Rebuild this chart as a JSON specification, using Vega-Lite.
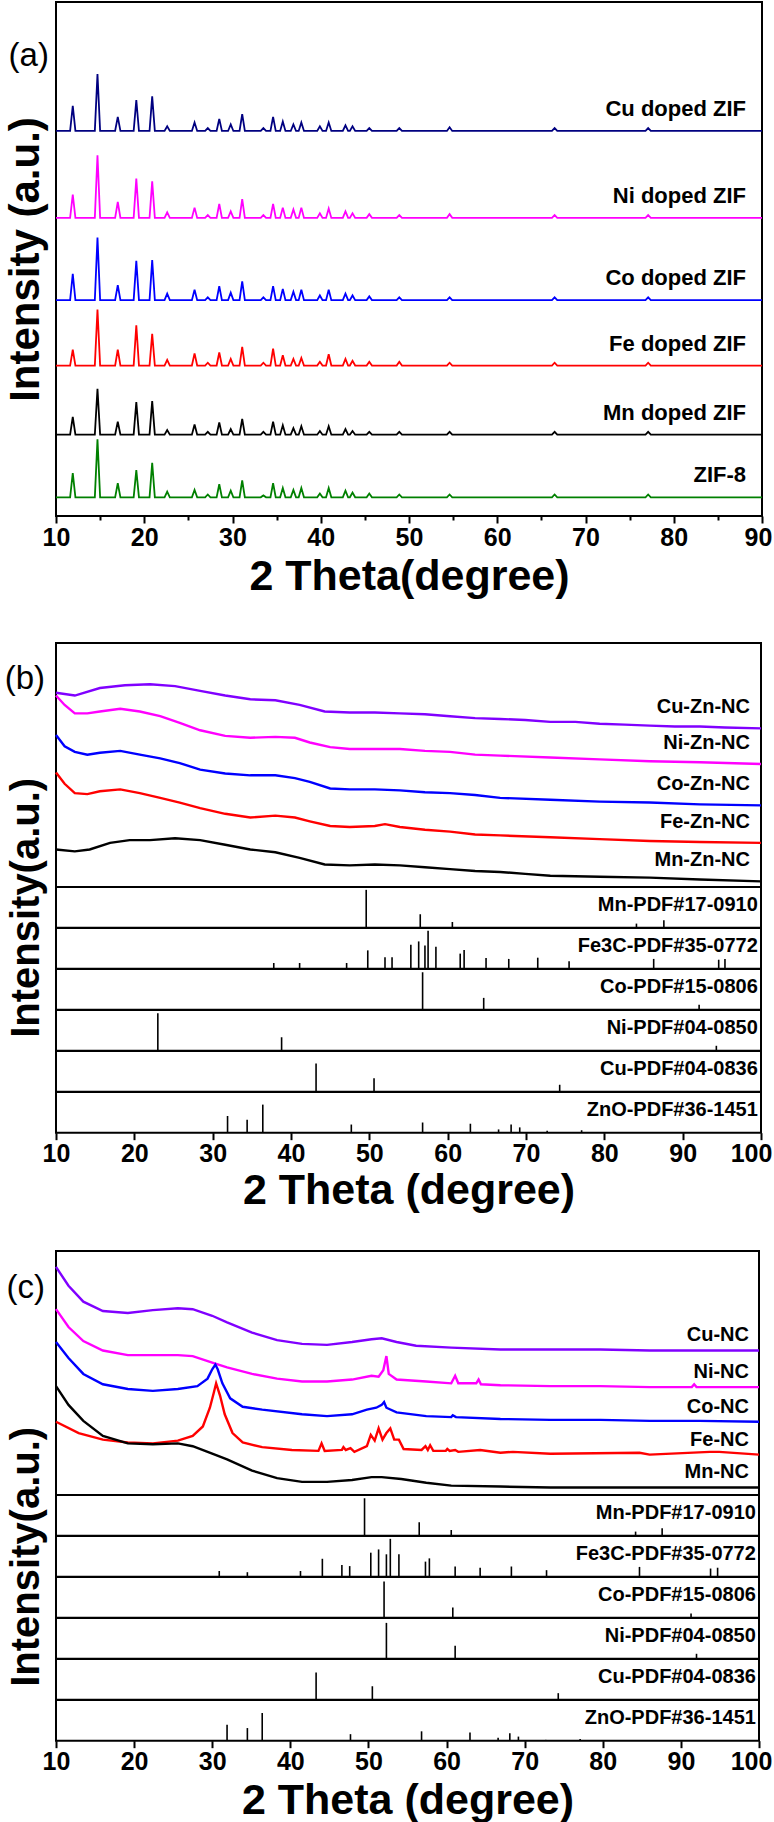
{
"$schema":"https://vega.github.io/schema/vega-lite/v6.json",
"background":"white",
"padding":{"left":3,"top":1,"right":0,"bottom":0},
"spacing":0,
"bounds":"flush",
"resolve":{"scale":{"color":"independent"}},
"config":{"font":"Liberation Sans","view":{"stroke":"#000","strokeWidth":2},
"axis":{"labelFont":"Liberation Sans","labelFontWeight":"bold","labelColor":"#000","titleFont":"Liberation Sans","titleFontWeight":"bold","titleColor":"#000","tickColor":"#000","tickWidth":2,"domain":false,"grid":false}},
"datasets":{
"A":[
{"s":"Cu doped ZIF","x":10,"y":412},{"s":"Cu doped ZIF","x":11.6,"y":412},{"s":"Cu doped ZIF","x":11.9,"y":439},{"s":"Cu doped ZIF","x":12.2,"y":412},{"s":"Cu doped ZIF","x":14.4,"y":412},{"s":"Cu doped ZIF","x":14.7,"y":473},{"s":"Cu doped ZIF","x":15.0,"y":412},{"s":"Cu doped ZIF","x":16.7,"y":412},{"s":"Cu doped ZIF","x":17.0,"y":427},{"s":"Cu doped ZIF","x":17.3,"y":412},{"s":"Cu doped ZIF","x":18.8,"y":412},{"s":"Cu doped ZIF","x":19.1,"y":445},{"s":"Cu doped ZIF","x":19.4,"y":412},{"s":"Cu doped ZIF","x":20.6,"y":412},{"s":"Cu doped ZIF","x":20.9,"y":449},{"s":"Cu doped ZIF","x":21.2,"y":412},{"s":"Cu doped ZIF","x":22.3,"y":412},{"s":"Cu doped ZIF","x":22.6,"y":417},{"s":"Cu doped ZIF","x":22.9,"y":412},{"s":"Cu doped ZIF","x":25.4,"y":412},{"s":"Cu doped ZIF","x":25.7,"y":421},{"s":"Cu doped ZIF","x":26.0,"y":412},{"s":"Cu doped ZIF","x":26.9,"y":412},{"s":"Cu doped ZIF","x":27.2,"y":415},{"s":"Cu doped ZIF","x":27.5,"y":412},{"s":"Cu doped ZIF","x":28.2,"y":412},{"s":"Cu doped ZIF","x":28.5,"y":425},{"s":"Cu doped ZIF","x":28.8,"y":412},{"s":"Cu doped ZIF","x":29.5,"y":412},{"s":"Cu doped ZIF","x":29.8,"y":419},{"s":"Cu doped ZIF","x":30.1,"y":412},{"s":"Cu doped ZIF","x":30.8,"y":412},{"s":"Cu doped ZIF","x":31.1,"y":430},{"s":"Cu doped ZIF","x":31.4,"y":412},{"s":"Cu doped ZIF","x":33.2,"y":412},{"s":"Cu doped ZIF","x":33.5,"y":415},{"s":"Cu doped ZIF","x":33.8,"y":412},{"s":"Cu doped ZIF","x":34.3,"y":412},{"s":"Cu doped ZIF","x":34.6,"y":427},{"s":"Cu doped ZIF","x":34.9,"y":412},{"s":"Cu doped ZIF","x":35.4,"y":412},{"s":"Cu doped ZIF","x":35.7,"y":422},{"s":"Cu doped ZIF","x":36.0,"y":412},{"s":"Cu doped ZIF","x":36.6,"y":412},{"s":"Cu doped ZIF","x":36.9,"y":419},{"s":"Cu doped ZIF","x":37.2,"y":412},{"s":"Cu doped ZIF","x":37.5,"y":412},{"s":"Cu doped ZIF","x":37.8,"y":421},{"s":"Cu doped ZIF","x":38.1,"y":412},{"s":"Cu doped ZIF","x":39.6,"y":412},{"s":"Cu doped ZIF","x":39.9,"y":417},{"s":"Cu doped ZIF","x":40.2,"y":412},{"s":"Cu doped ZIF","x":40.6,"y":412},{"s":"Cu doped ZIF","x":40.9,"y":421},{"s":"Cu doped ZIF","x":41.2,"y":412},{"s":"Cu doped ZIF","x":42.5,"y":412},{"s":"Cu doped ZIF","x":42.8,"y":418},{"s":"Cu doped ZIF","x":43.1,"y":412},{"s":"Cu doped ZIF","x":43.3,"y":412},{"s":"Cu doped ZIF","x":43.6,"y":417},{"s":"Cu doped ZIF","x":43.9,"y":412},{"s":"Cu doped ZIF","x":45.2,"y":412},{"s":"Cu doped ZIF","x":45.5,"y":415},{"s":"Cu doped ZIF","x":45.8,"y":412},{"s":"Cu doped ZIF","x":48.6,"y":412},{"s":"Cu doped ZIF","x":48.9,"y":415},{"s":"Cu doped ZIF","x":49.2,"y":412},{"s":"Cu doped ZIF","x":54.3,"y":412},{"s":"Cu doped ZIF","x":54.6,"y":416},{"s":"Cu doped ZIF","x":54.9,"y":412},{"s":"Cu doped ZIF","x":66.2,"y":412},{"s":"Cu doped ZIF","x":66.5,"y":415},{"s":"Cu doped ZIF","x":66.8,"y":412},{"s":"Cu doped ZIF","x":76.8,"y":412},{"s":"Cu doped ZIF","x":77.1,"y":415},{"s":"Cu doped ZIF","x":77.4,"y":412},{"s":"Cu doped ZIF","x":90,"y":412},
{"s":"Ni doped ZIF","x":10,"y":319},{"s":"Ni doped ZIF","x":11.6,"y":319},{"s":"Ni doped ZIF","x":11.9,"y":344},{"s":"Ni doped ZIF","x":12.2,"y":319},{"s":"Ni doped ZIF","x":14.4,"y":319},{"s":"Ni doped ZIF","x":14.7,"y":386},{"s":"Ni doped ZIF","x":15.0,"y":319},{"s":"Ni doped ZIF","x":16.7,"y":319},{"s":"Ni doped ZIF","x":17.0,"y":336},{"s":"Ni doped ZIF","x":17.3,"y":319},{"s":"Ni doped ZIF","x":18.8,"y":319},{"s":"Ni doped ZIF","x":19.1,"y":361},{"s":"Ni doped ZIF","x":19.4,"y":319},{"s":"Ni doped ZIF","x":20.6,"y":319},{"s":"Ni doped ZIF","x":20.9,"y":358},{"s":"Ni doped ZIF","x":21.2,"y":319},{"s":"Ni doped ZIF","x":22.3,"y":319},{"s":"Ni doped ZIF","x":22.6,"y":325},{"s":"Ni doped ZIF","x":22.9,"y":319},{"s":"Ni doped ZIF","x":25.4,"y":319},{"s":"Ni doped ZIF","x":25.7,"y":330},{"s":"Ni doped ZIF","x":26.0,"y":319},{"s":"Ni doped ZIF","x":26.9,"y":319},{"s":"Ni doped ZIF","x":27.2,"y":322},{"s":"Ni doped ZIF","x":27.5,"y":319},{"s":"Ni doped ZIF","x":28.2,"y":319},{"s":"Ni doped ZIF","x":28.5,"y":334},{"s":"Ni doped ZIF","x":28.8,"y":319},{"s":"Ni doped ZIF","x":29.5,"y":319},{"s":"Ni doped ZIF","x":29.8,"y":326},{"s":"Ni doped ZIF","x":30.1,"y":319},{"s":"Ni doped ZIF","x":30.8,"y":319},{"s":"Ni doped ZIF","x":31.1,"y":339},{"s":"Ni doped ZIF","x":31.4,"y":319},{"s":"Ni doped ZIF","x":33.2,"y":319},{"s":"Ni doped ZIF","x":33.5,"y":322},{"s":"Ni doped ZIF","x":33.8,"y":319},{"s":"Ni doped ZIF","x":34.3,"y":319},{"s":"Ni doped ZIF","x":34.6,"y":334},{"s":"Ni doped ZIF","x":34.9,"y":319},{"s":"Ni doped ZIF","x":35.4,"y":319},{"s":"Ni doped ZIF","x":35.7,"y":330},{"s":"Ni doped ZIF","x":36.0,"y":319},{"s":"Ni doped ZIF","x":36.6,"y":319},{"s":"Ni doped ZIF","x":36.9,"y":328},{"s":"Ni doped ZIF","x":37.2,"y":319},{"s":"Ni doped ZIF","x":37.5,"y":319},{"s":"Ni doped ZIF","x":37.8,"y":330},{"s":"Ni doped ZIF","x":38.1,"y":319},{"s":"Ni doped ZIF","x":39.6,"y":319},{"s":"Ni doped ZIF","x":39.9,"y":324},{"s":"Ni doped ZIF","x":40.2,"y":319},{"s":"Ni doped ZIF","x":40.6,"y":319},{"s":"Ni doped ZIF","x":40.9,"y":329},{"s":"Ni doped ZIF","x":41.2,"y":319},{"s":"Ni doped ZIF","x":42.5,"y":319},{"s":"Ni doped ZIF","x":42.8,"y":326},{"s":"Ni doped ZIF","x":43.1,"y":319},{"s":"Ni doped ZIF","x":43.3,"y":319},{"s":"Ni doped ZIF","x":43.6,"y":324},{"s":"Ni doped ZIF","x":43.9,"y":319},{"s":"Ni doped ZIF","x":45.2,"y":319},{"s":"Ni doped ZIF","x":45.5,"y":323},{"s":"Ni doped ZIF","x":45.8,"y":319},{"s":"Ni doped ZIF","x":48.6,"y":319},{"s":"Ni doped ZIF","x":48.9,"y":322},{"s":"Ni doped ZIF","x":49.2,"y":319},{"s":"Ni doped ZIF","x":54.3,"y":319},{"s":"Ni doped ZIF","x":54.6,"y":323},{"s":"Ni doped ZIF","x":54.9,"y":319},{"s":"Ni doped ZIF","x":66.2,"y":319},{"s":"Ni doped ZIF","x":66.5,"y":322},{"s":"Ni doped ZIF","x":66.8,"y":319},{"s":"Ni doped ZIF","x":76.8,"y":319},{"s":"Ni doped ZIF","x":77.1,"y":322},{"s":"Ni doped ZIF","x":77.4,"y":319},{"s":"Ni doped ZIF","x":90,"y":319},
{"s":"Co doped ZIF","x":10,"y":231},{"s":"Co doped ZIF","x":11.6,"y":231},{"s":"Co doped ZIF","x":11.9,"y":259},{"s":"Co doped ZIF","x":12.2,"y":231},{"s":"Co doped ZIF","x":14.4,"y":231},{"s":"Co doped ZIF","x":14.7,"y":298},{"s":"Co doped ZIF","x":15.0,"y":231},{"s":"Co doped ZIF","x":16.7,"y":231},{"s":"Co doped ZIF","x":17.0,"y":247},{"s":"Co doped ZIF","x":17.3,"y":231},{"s":"Co doped ZIF","x":18.8,"y":231},{"s":"Co doped ZIF","x":19.1,"y":273},{"s":"Co doped ZIF","x":19.4,"y":231},{"s":"Co doped ZIF","x":20.6,"y":231},{"s":"Co doped ZIF","x":20.9,"y":274},{"s":"Co doped ZIF","x":21.2,"y":231},{"s":"Co doped ZIF","x":22.3,"y":231},{"s":"Co doped ZIF","x":22.6,"y":238},{"s":"Co doped ZIF","x":22.9,"y":231},{"s":"Co doped ZIF","x":25.4,"y":231},{"s":"Co doped ZIF","x":25.7,"y":242},{"s":"Co doped ZIF","x":26.0,"y":231},{"s":"Co doped ZIF","x":26.9,"y":231},{"s":"Co doped ZIF","x":27.2,"y":234},{"s":"Co doped ZIF","x":27.5,"y":231},{"s":"Co doped ZIF","x":28.2,"y":231},{"s":"Co doped ZIF","x":28.5,"y":246},{"s":"Co doped ZIF","x":28.8,"y":231},{"s":"Co doped ZIF","x":29.5,"y":231},{"s":"Co doped ZIF","x":29.8,"y":239},{"s":"Co doped ZIF","x":30.1,"y":231},{"s":"Co doped ZIF","x":30.8,"y":231},{"s":"Co doped ZIF","x":31.1,"y":251},{"s":"Co doped ZIF","x":31.4,"y":231},{"s":"Co doped ZIF","x":33.2,"y":231},{"s":"Co doped ZIF","x":33.5,"y":234},{"s":"Co doped ZIF","x":33.8,"y":231},{"s":"Co doped ZIF","x":34.3,"y":231},{"s":"Co doped ZIF","x":34.6,"y":246},{"s":"Co doped ZIF","x":34.9,"y":231},{"s":"Co doped ZIF","x":35.4,"y":231},{"s":"Co doped ZIF","x":35.7,"y":243},{"s":"Co doped ZIF","x":36.0,"y":231},{"s":"Co doped ZIF","x":36.6,"y":231},{"s":"Co doped ZIF","x":36.9,"y":240},{"s":"Co doped ZIF","x":37.2,"y":231},{"s":"Co doped ZIF","x":37.5,"y":231},{"s":"Co doped ZIF","x":37.8,"y":242},{"s":"Co doped ZIF","x":38.1,"y":231},{"s":"Co doped ZIF","x":39.6,"y":231},{"s":"Co doped ZIF","x":39.9,"y":236},{"s":"Co doped ZIF","x":40.2,"y":231},{"s":"Co doped ZIF","x":40.6,"y":231},{"s":"Co doped ZIF","x":40.9,"y":242},{"s":"Co doped ZIF","x":41.2,"y":231},{"s":"Co doped ZIF","x":42.5,"y":231},{"s":"Co doped ZIF","x":42.8,"y":238},{"s":"Co doped ZIF","x":43.1,"y":231},{"s":"Co doped ZIF","x":43.3,"y":231},{"s":"Co doped ZIF","x":43.6,"y":236},{"s":"Co doped ZIF","x":43.9,"y":231},{"s":"Co doped ZIF","x":45.2,"y":231},{"s":"Co doped ZIF","x":45.5,"y":235},{"s":"Co doped ZIF","x":45.8,"y":231},{"s":"Co doped ZIF","x":48.6,"y":231},{"s":"Co doped ZIF","x":48.9,"y":234},{"s":"Co doped ZIF","x":49.2,"y":231},{"s":"Co doped ZIF","x":54.3,"y":231},{"s":"Co doped ZIF","x":54.6,"y":234},{"s":"Co doped ZIF","x":54.9,"y":231},{"s":"Co doped ZIF","x":66.2,"y":231},{"s":"Co doped ZIF","x":66.5,"y":234},{"s":"Co doped ZIF","x":66.8,"y":231},{"s":"Co doped ZIF","x":76.8,"y":231},{"s":"Co doped ZIF","x":77.1,"y":234},{"s":"Co doped ZIF","x":77.4,"y":231},{"s":"Co doped ZIF","x":90,"y":231},
{"s":"Fe doped ZIF","x":10,"y":161},{"s":"Fe doped ZIF","x":11.6,"y":161},{"s":"Fe doped ZIF","x":11.9,"y":178},{"s":"Fe doped ZIF","x":12.2,"y":161},{"s":"Fe doped ZIF","x":14.4,"y":161},{"s":"Fe doped ZIF","x":14.7,"y":221},{"s":"Fe doped ZIF","x":15.0,"y":161},{"s":"Fe doped ZIF","x":16.7,"y":161},{"s":"Fe doped ZIF","x":17.0,"y":178},{"s":"Fe doped ZIF","x":17.3,"y":161},{"s":"Fe doped ZIF","x":18.8,"y":161},{"s":"Fe doped ZIF","x":19.1,"y":204},{"s":"Fe doped ZIF","x":19.4,"y":161},{"s":"Fe doped ZIF","x":20.6,"y":161},{"s":"Fe doped ZIF","x":20.9,"y":195},{"s":"Fe doped ZIF","x":21.2,"y":161},{"s":"Fe doped ZIF","x":22.3,"y":161},{"s":"Fe doped ZIF","x":22.6,"y":167},{"s":"Fe doped ZIF","x":22.9,"y":161},{"s":"Fe doped ZIF","x":25.4,"y":161},{"s":"Fe doped ZIF","x":25.7,"y":174},{"s":"Fe doped ZIF","x":26.0,"y":161},{"s":"Fe doped ZIF","x":26.9,"y":161},{"s":"Fe doped ZIF","x":27.2,"y":164},{"s":"Fe doped ZIF","x":27.5,"y":161},{"s":"Fe doped ZIF","x":28.2,"y":161},{"s":"Fe doped ZIF","x":28.5,"y":175},{"s":"Fe doped ZIF","x":28.8,"y":161},{"s":"Fe doped ZIF","x":29.5,"y":161},{"s":"Fe doped ZIF","x":29.8,"y":168},{"s":"Fe doped ZIF","x":30.1,"y":161},{"s":"Fe doped ZIF","x":30.8,"y":161},{"s":"Fe doped ZIF","x":31.1,"y":181},{"s":"Fe doped ZIF","x":31.4,"y":161},{"s":"Fe doped ZIF","x":33.2,"y":161},{"s":"Fe doped ZIF","x":33.5,"y":164},{"s":"Fe doped ZIF","x":33.8,"y":161},{"s":"Fe doped ZIF","x":34.3,"y":161},{"s":"Fe doped ZIF","x":34.6,"y":179},{"s":"Fe doped ZIF","x":34.9,"y":161},{"s":"Fe doped ZIF","x":35.4,"y":161},{"s":"Fe doped ZIF","x":35.7,"y":172},{"s":"Fe doped ZIF","x":36.0,"y":161},{"s":"Fe doped ZIF","x":36.6,"y":161},{"s":"Fe doped ZIF","x":36.9,"y":168},{"s":"Fe doped ZIF","x":37.2,"y":161},{"s":"Fe doped ZIF","x":37.5,"y":161},{"s":"Fe doped ZIF","x":37.8,"y":169},{"s":"Fe doped ZIF","x":38.1,"y":161},{"s":"Fe doped ZIF","x":39.6,"y":161},{"s":"Fe doped ZIF","x":39.9,"y":165},{"s":"Fe doped ZIF","x":40.2,"y":161},{"s":"Fe doped ZIF","x":40.6,"y":161},{"s":"Fe doped ZIF","x":40.9,"y":173},{"s":"Fe doped ZIF","x":41.2,"y":161},{"s":"Fe doped ZIF","x":42.5,"y":161},{"s":"Fe doped ZIF","x":42.8,"y":168},{"s":"Fe doped ZIF","x":43.1,"y":161},{"s":"Fe doped ZIF","x":43.3,"y":161},{"s":"Fe doped ZIF","x":43.6,"y":166},{"s":"Fe doped ZIF","x":43.9,"y":161},{"s":"Fe doped ZIF","x":45.2,"y":161},{"s":"Fe doped ZIF","x":45.5,"y":165},{"s":"Fe doped ZIF","x":45.8,"y":161},{"s":"Fe doped ZIF","x":48.6,"y":161},{"s":"Fe doped ZIF","x":48.9,"y":165},{"s":"Fe doped ZIF","x":49.2,"y":161},{"s":"Fe doped ZIF","x":54.3,"y":161},{"s":"Fe doped ZIF","x":54.6,"y":164},{"s":"Fe doped ZIF","x":54.9,"y":161},{"s":"Fe doped ZIF","x":66.2,"y":161},{"s":"Fe doped ZIF","x":66.5,"y":164},{"s":"Fe doped ZIF","x":66.8,"y":161},{"s":"Fe doped ZIF","x":76.8,"y":161},{"s":"Fe doped ZIF","x":77.1,"y":164},{"s":"Fe doped ZIF","x":77.4,"y":161},{"s":"Fe doped ZIF","x":90,"y":161},
{"s":"Mn doped ZIF","x":10,"y":87},{"s":"Mn doped ZIF","x":11.6,"y":87},{"s":"Mn doped ZIF","x":11.9,"y":106},{"s":"Mn doped ZIF","x":12.2,"y":87},{"s":"Mn doped ZIF","x":14.4,"y":87},{"s":"Mn doped ZIF","x":14.7,"y":136},{"s":"Mn doped ZIF","x":15.0,"y":87},{"s":"Mn doped ZIF","x":16.7,"y":87},{"s":"Mn doped ZIF","x":17.0,"y":101},{"s":"Mn doped ZIF","x":17.3,"y":87},{"s":"Mn doped ZIF","x":18.8,"y":87},{"s":"Mn doped ZIF","x":19.1,"y":122},{"s":"Mn doped ZIF","x":19.4,"y":87},{"s":"Mn doped ZIF","x":20.6,"y":87},{"s":"Mn doped ZIF","x":20.9,"y":123},{"s":"Mn doped ZIF","x":21.2,"y":87},{"s":"Mn doped ZIF","x":22.3,"y":87},{"s":"Mn doped ZIF","x":22.6,"y":92},{"s":"Mn doped ZIF","x":22.9,"y":87},{"s":"Mn doped ZIF","x":25.4,"y":87},{"s":"Mn doped ZIF","x":25.7,"y":98},{"s":"Mn doped ZIF","x":26.0,"y":87},{"s":"Mn doped ZIF","x":26.9,"y":87},{"s":"Mn doped ZIF","x":27.2,"y":90},{"s":"Mn doped ZIF","x":27.5,"y":87},{"s":"Mn doped ZIF","x":28.2,"y":87},{"s":"Mn doped ZIF","x":28.5,"y":100},{"s":"Mn doped ZIF","x":28.8,"y":87},{"s":"Mn doped ZIF","x":29.5,"y":87},{"s":"Mn doped ZIF","x":29.8,"y":93},{"s":"Mn doped ZIF","x":30.1,"y":87},{"s":"Mn doped ZIF","x":30.8,"y":87},{"s":"Mn doped ZIF","x":31.1,"y":104},{"s":"Mn doped ZIF","x":31.4,"y":87},{"s":"Mn doped ZIF","x":33.2,"y":87},{"s":"Mn doped ZIF","x":33.5,"y":90},{"s":"Mn doped ZIF","x":33.8,"y":87},{"s":"Mn doped ZIF","x":34.3,"y":87},{"s":"Mn doped ZIF","x":34.6,"y":101},{"s":"Mn doped ZIF","x":34.9,"y":87},{"s":"Mn doped ZIF","x":35.4,"y":87},{"s":"Mn doped ZIF","x":35.7,"y":97},{"s":"Mn doped ZIF","x":36.0,"y":87},{"s":"Mn doped ZIF","x":36.6,"y":87},{"s":"Mn doped ZIF","x":36.9,"y":94},{"s":"Mn doped ZIF","x":37.2,"y":87},{"s":"Mn doped ZIF","x":37.5,"y":87},{"s":"Mn doped ZIF","x":37.8,"y":96},{"s":"Mn doped ZIF","x":38.1,"y":87},{"s":"Mn doped ZIF","x":39.6,"y":87},{"s":"Mn doped ZIF","x":39.9,"y":91},{"s":"Mn doped ZIF","x":40.2,"y":87},{"s":"Mn doped ZIF","x":40.6,"y":87},{"s":"Mn doped ZIF","x":40.9,"y":96},{"s":"Mn doped ZIF","x":41.2,"y":87},{"s":"Mn doped ZIF","x":42.5,"y":87},{"s":"Mn doped ZIF","x":42.8,"y":93},{"s":"Mn doped ZIF","x":43.1,"y":87},{"s":"Mn doped ZIF","x":43.3,"y":87},{"s":"Mn doped ZIF","x":43.6,"y":91},{"s":"Mn doped ZIF","x":43.9,"y":87},{"s":"Mn doped ZIF","x":45.2,"y":87},{"s":"Mn doped ZIF","x":45.5,"y":90},{"s":"Mn doped ZIF","x":45.8,"y":87},{"s":"Mn doped ZIF","x":48.6,"y":87},{"s":"Mn doped ZIF","x":48.9,"y":90},{"s":"Mn doped ZIF","x":49.2,"y":87},{"s":"Mn doped ZIF","x":54.3,"y":87},{"s":"Mn doped ZIF","x":54.6,"y":90},{"s":"Mn doped ZIF","x":54.9,"y":87},{"s":"Mn doped ZIF","x":66.2,"y":87},{"s":"Mn doped ZIF","x":66.5,"y":90},{"s":"Mn doped ZIF","x":66.8,"y":87},{"s":"Mn doped ZIF","x":76.8,"y":87},{"s":"Mn doped ZIF","x":77.1,"y":90},{"s":"Mn doped ZIF","x":77.4,"y":87},{"s":"Mn doped ZIF","x":90,"y":87},
{"s":"ZIF-8","x":10,"y":20},{"s":"ZIF-8","x":11.6,"y":20},{"s":"ZIF-8","x":11.9,"y":46},{"s":"ZIF-8","x":12.2,"y":20},{"s":"ZIF-8","x":14.4,"y":20},{"s":"ZIF-8","x":14.7,"y":82},{"s":"ZIF-8","x":15.0,"y":20},{"s":"ZIF-8","x":16.7,"y":20},{"s":"ZIF-8","x":17.0,"y":35},{"s":"ZIF-8","x":17.3,"y":20},{"s":"ZIF-8","x":18.8,"y":20},{"s":"ZIF-8","x":19.1,"y":49},{"s":"ZIF-8","x":19.4,"y":20},{"s":"ZIF-8","x":20.6,"y":20},{"s":"ZIF-8","x":20.9,"y":57},{"s":"ZIF-8","x":21.2,"y":20},{"s":"ZIF-8","x":22.3,"y":20},{"s":"ZIF-8","x":22.6,"y":26},{"s":"ZIF-8","x":22.9,"y":20},{"s":"ZIF-8","x":25.4,"y":20},{"s":"ZIF-8","x":25.7,"y":28},{"s":"ZIF-8","x":26.0,"y":20},{"s":"ZIF-8","x":26.9,"y":20},{"s":"ZIF-8","x":27.2,"y":23},{"s":"ZIF-8","x":27.5,"y":20},{"s":"ZIF-8","x":28.2,"y":20},{"s":"ZIF-8","x":28.5,"y":34},{"s":"ZIF-8","x":28.8,"y":20},{"s":"ZIF-8","x":29.5,"y":20},{"s":"ZIF-8","x":29.8,"y":27},{"s":"ZIF-8","x":30.1,"y":20},{"s":"ZIF-8","x":30.8,"y":20},{"s":"ZIF-8","x":31.1,"y":38},{"s":"ZIF-8","x":31.4,"y":20},{"s":"ZIF-8","x":33.2,"y":20},{"s":"ZIF-8","x":33.5,"y":22},{"s":"ZIF-8","x":33.8,"y":20},{"s":"ZIF-8","x":34.3,"y":20},{"s":"ZIF-8","x":34.6,"y":35},{"s":"ZIF-8","x":34.9,"y":20},{"s":"ZIF-8","x":35.4,"y":20},{"s":"ZIF-8","x":35.7,"y":30},{"s":"ZIF-8","x":36.0,"y":20},{"s":"ZIF-8","x":36.6,"y":20},{"s":"ZIF-8","x":36.9,"y":28},{"s":"ZIF-8","x":37.2,"y":20},{"s":"ZIF-8","x":37.5,"y":20},{"s":"ZIF-8","x":37.8,"y":30},{"s":"ZIF-8","x":38.1,"y":20},{"s":"ZIF-8","x":39.6,"y":20},{"s":"ZIF-8","x":39.9,"y":24},{"s":"ZIF-8","x":40.2,"y":20},{"s":"ZIF-8","x":40.6,"y":20},{"s":"ZIF-8","x":40.9,"y":30},{"s":"ZIF-8","x":41.2,"y":20},{"s":"ZIF-8","x":42.5,"y":20},{"s":"ZIF-8","x":42.8,"y":27},{"s":"ZIF-8","x":43.1,"y":20},{"s":"ZIF-8","x":43.3,"y":20},{"s":"ZIF-8","x":43.6,"y":25},{"s":"ZIF-8","x":43.9,"y":20},{"s":"ZIF-8","x":45.2,"y":20},{"s":"ZIF-8","x":45.5,"y":24},{"s":"ZIF-8","x":45.8,"y":20},{"s":"ZIF-8","x":48.6,"y":20},{"s":"ZIF-8","x":48.9,"y":23},{"s":"ZIF-8","x":49.2,"y":20},{"s":"ZIF-8","x":54.3,"y":20},{"s":"ZIF-8","x":54.6,"y":23},{"s":"ZIF-8","x":54.9,"y":20},{"s":"ZIF-8","x":66.2,"y":20},{"s":"ZIF-8","x":66.5,"y":23},{"s":"ZIF-8","x":66.8,"y":20},{"s":"ZIF-8","x":76.8,"y":20},{"s":"ZIF-8","x":77.1,"y":23},{"s":"ZIF-8","x":77.4,"y":20},{"s":"ZIF-8","x":90,"y":20}
],
"B":[
{"s":"Cu-Zn-NC","x":10,"y":207},{"s":"Cu-Zn-NC","x":12.4,"y":204},{"s":"Cu-Zn-NC","x":15.6,"y":212},{"s":"Cu-Zn-NC","x":18.8,"y":215},{"s":"Cu-Zn-NC","x":22.0,"y":216},{"s":"Cu-Zn-NC","x":25.2,"y":214},{"s":"Cu-Zn-NC","x":28.4,"y":209},{"s":"Cu-Zn-NC","x":31.6,"y":204},{"s":"Cu-Zn-NC","x":34.8,"y":200},{"s":"Cu-Zn-NC","x":38.0,"y":199},{"s":"Cu-Zn-NC","x":41.1,"y":194},{"s":"Cu-Zn-NC","x":44.3,"y":187},{"s":"Cu-Zn-NC","x":47.5,"y":186},{"s":"Cu-Zn-NC","x":50.7,"y":186},{"s":"Cu-Zn-NC","x":53.9,"y":185},{"s":"Cu-Zn-NC","x":57.1,"y":184},{"s":"Cu-Zn-NC","x":60.3,"y":182},{"s":"Cu-Zn-NC","x":63.5,"y":180},{"s":"Cu-Zn-NC","x":66.7,"y":179},{"s":"Cu-Zn-NC","x":69.9,"y":178},{"s":"Cu-Zn-NC","x":73.1,"y":176},{"s":"Cu-Zn-NC","x":76.3,"y":176},{"s":"Cu-Zn-NC","x":79.4,"y":174},{"s":"Cu-Zn-NC","x":82.6,"y":173},{"s":"Cu-Zn-NC","x":85.8,"y":172},{"s":"Cu-Zn-NC","x":89.0,"y":171},{"s":"Cu-Zn-NC","x":92.2,"y":171},{"s":"Cu-Zn-NC","x":95.4,"y":170},{"s":"Cu-Zn-NC","x":100,"y":169},
{"s":"Ni-Zn-NC","x":10,"y":204},{"s":"Ni-Zn-NC","x":11.1,"y":194},{"s":"Ni-Zn-NC","x":12.4,"y":185},{"s":"Ni-Zn-NC","x":14.0,"y":185},{"s":"Ni-Zn-NC","x":15.6,"y":187},{"s":"Ni-Zn-NC","x":18.2,"y":190},{"s":"Ni-Zn-NC","x":20.7,"y":187},{"s":"Ni-Zn-NC","x":23.3,"y":182},{"s":"Ni-Zn-NC","x":25.8,"y":175},{"s":"Ni-Zn-NC","x":28.4,"y":167},{"s":"Ni-Zn-NC","x":31.6,"y":161},{"s":"Ni-Zn-NC","x":34.8,"y":159},{"s":"Ni-Zn-NC","x":38.0,"y":160},{"s":"Ni-Zn-NC","x":40.5,"y":159},{"s":"Ni-Zn-NC","x":42.4,"y":154},{"s":"Ni-Zn-NC","x":45.0,"y":149},{"s":"Ni-Zn-NC","x":47.5,"y":147},{"s":"Ni-Zn-NC","x":50.7,"y":147},{"s":"Ni-Zn-NC","x":53.9,"y":147},{"s":"Ni-Zn-NC","x":57.1,"y":145},{"s":"Ni-Zn-NC","x":60.3,"y":144},{"s":"Ni-Zn-NC","x":63.5,"y":141},{"s":"Ni-Zn-NC","x":66.7,"y":140},{"s":"Ni-Zn-NC","x":73.1,"y":138},{"s":"Ni-Zn-NC","x":79.4,"y":136},{"s":"Ni-Zn-NC","x":85.8,"y":134},{"s":"Ni-Zn-NC","x":92.2,"y":133},{"s":"Ni-Zn-NC","x":100,"y":131},
{"s":"Co-Zn-NC","x":10,"y":162},{"s":"Co-Zn-NC","x":11.1,"y":150},{"s":"Co-Zn-NC","x":12.4,"y":144},{"s":"Co-Zn-NC","x":14.0,"y":141},{"s":"Co-Zn-NC","x":15.6,"y":143},{"s":"Co-Zn-NC","x":18.2,"y":145},{"s":"Co-Zn-NC","x":20.7,"y":141},{"s":"Co-Zn-NC","x":23.3,"y":137},{"s":"Co-Zn-NC","x":25.8,"y":132},{"s":"Co-Zn-NC","x":28.4,"y":125},{"s":"Co-Zn-NC","x":31.6,"y":121},{"s":"Co-Zn-NC","x":34.8,"y":119},{"s":"Co-Zn-NC","x":38.0,"y":119},{"s":"Co-Zn-NC","x":40.5,"y":116},{"s":"Co-Zn-NC","x":42.4,"y":112},{"s":"Co-Zn-NC","x":45.0,"y":105},{"s":"Co-Zn-NC","x":47.5,"y":104},{"s":"Co-Zn-NC","x":50.7,"y":104},{"s":"Co-Zn-NC","x":53.9,"y":103},{"s":"Co-Zn-NC","x":57.1,"y":101},{"s":"Co-Zn-NC","x":60.3,"y":100},{"s":"Co-Zn-NC","x":63.5,"y":98},{"s":"Co-Zn-NC","x":66.7,"y":95},{"s":"Co-Zn-NC","x":73.1,"y":93},{"s":"Co-Zn-NC","x":79.4,"y":91},{"s":"Co-Zn-NC","x":85.8,"y":90},{"s":"Co-Zn-NC","x":92.2,"y":88},{"s":"Co-Zn-NC","x":100,"y":87},
{"s":"Fe-Zn-NC","x":10,"y":122},{"s":"Fe-Zn-NC","x":11.1,"y":110},{"s":"Fe-Zn-NC","x":12.4,"y":100},{"s":"Fe-Zn-NC","x":14.0,"y":99},{"s":"Fe-Zn-NC","x":15.6,"y":102},{"s":"Fe-Zn-NC","x":18.2,"y":104},{"s":"Fe-Zn-NC","x":20.7,"y":100},{"s":"Fe-Zn-NC","x":23.3,"y":95},{"s":"Fe-Zn-NC","x":25.8,"y":90},{"s":"Fe-Zn-NC","x":28.4,"y":84},{"s":"Fe-Zn-NC","x":31.6,"y":78},{"s":"Fe-Zn-NC","x":34.8,"y":74},{"s":"Fe-Zn-NC","x":38.0,"y":76},{"s":"Fe-Zn-NC","x":40.5,"y":74},{"s":"Fe-Zn-NC","x":42.4,"y":70},{"s":"Fe-Zn-NC","x":45.0,"y":65},{"s":"Fe-Zn-NC","x":47.5,"y":64},{"s":"Fe-Zn-NC","x":50.7,"y":65},{"s":"Fe-Zn-NC","x":52.0,"y":67},{"s":"Fe-Zn-NC","x":53.9,"y":64},{"s":"Fe-Zn-NC","x":57.1,"y":61},{"s":"Fe-Zn-NC","x":60.3,"y":59},{"s":"Fe-Zn-NC","x":63.5,"y":56},{"s":"Fe-Zn-NC","x":66.7,"y":55},{"s":"Fe-Zn-NC","x":73.1,"y":53},{"s":"Fe-Zn-NC","x":79.4,"y":51},{"s":"Fe-Zn-NC","x":85.8,"y":49},{"s":"Fe-Zn-NC","x":92.2,"y":48},{"s":"Fe-Zn-NC","x":100,"y":47},
{"s":"Mn-Zn-NC","x":10,"y":40},{"s":"Mn-Zn-NC","x":12.4,"y":38},{"s":"Mn-Zn-NC","x":14.3,"y":40},{"s":"Mn-Zn-NC","x":16.9,"y":47},{"s":"Mn-Zn-NC","x":19.4,"y":50},{"s":"Mn-Zn-NC","x":22.0,"y":50},{"s":"Mn-Zn-NC","x":25.2,"y":52},{"s":"Mn-Zn-NC","x":28.4,"y":50},{"s":"Mn-Zn-NC","x":31.6,"y":45},{"s":"Mn-Zn-NC","x":34.8,"y":40},{"s":"Mn-Zn-NC","x":38.0,"y":37},{"s":"Mn-Zn-NC","x":41.1,"y":31},{"s":"Mn-Zn-NC","x":44.3,"y":24},{"s":"Mn-Zn-NC","x":47.5,"y":23},{"s":"Mn-Zn-NC","x":50.7,"y":24},{"s":"Mn-Zn-NC","x":53.9,"y":23},{"s":"Mn-Zn-NC","x":57.1,"y":21},{"s":"Mn-Zn-NC","x":60.3,"y":19},{"s":"Mn-Zn-NC","x":63.5,"y":17},{"s":"Mn-Zn-NC","x":66.7,"y":16},{"s":"Mn-Zn-NC","x":69.9,"y":14},{"s":"Mn-Zn-NC","x":73.1,"y":12},{"s":"Mn-Zn-NC","x":79.4,"y":11},{"s":"Mn-Zn-NC","x":85.8,"y":10},{"s":"Mn-Zn-NC","x":92.2,"y":8},{"s":"Mn-Zn-NC","x":100,"y":6}
],
"C":[
{"s":"Cu-NC","x":10,"y":243},{"s":"Cu-NC","x":11.6,"y":223},{"s":"Cu-NC","x":13.5,"y":206},{"s":"Cu-NC","x":16.0,"y":196},{"s":"Cu-NC","x":19.2,"y":194},{"s":"Cu-NC","x":22.4,"y":197},{"s":"Cu-NC","x":25.6,"y":199},{"s":"Cu-NC","x":27.5,"y":198},{"s":"Cu-NC","x":30.0,"y":191},{"s":"Cu-NC","x":31.9,"y":184},{"s":"Cu-NC","x":35.1,"y":173},{"s":"Cu-NC","x":38.3,"y":165},{"s":"Cu-NC","x":41.5,"y":161},{"s":"Cu-NC","x":44.7,"y":160},{"s":"Cu-NC","x":47.9,"y":163},{"s":"Cu-NC","x":50.4,"y":166},{"s":"Cu-NC","x":51.7,"y":167},{"s":"Cu-NC","x":53.6,"y":163},{"s":"Cu-NC","x":56.1,"y":159},{"s":"Cu-NC","x":60.6,"y":157},{"s":"Cu-NC","x":66.9,"y":155},{"s":"Cu-NC","x":73.3,"y":155},{"s":"Cu-NC","x":79.7,"y":155},{"s":"Cu-NC","x":86.0,"y":154},{"s":"Cu-NC","x":92.4,"y":154},{"s":"Cu-NC","x":100,"y":154},
{"s":"Ni-NC","x":10,"y":198},{"s":"Ni-NC","x":11.6,"y":179},{"s":"Ni-NC","x":13.5,"y":164},{"s":"Ni-NC","x":16.0,"y":154},{"s":"Ni-NC","x":19.2,"y":149},{"s":"Ni-NC","x":22.4,"y":149},{"s":"Ni-NC","x":25.6,"y":149},{"s":"Ni-NC","x":27.5,"y":148},{"s":"Ni-NC","x":30.0,"y":141},{"s":"Ni-NC","x":31.9,"y":136},{"s":"Ni-NC","x":35.1,"y":129},{"s":"Ni-NC","x":38.3,"y":124},{"s":"Ni-NC","x":41.5,"y":121},{"s":"Ni-NC","x":44.7,"y":121},{"s":"Ni-NC","x":47.9,"y":123},{"s":"Ni-NC","x":50.4,"y":127},{"s":"Ni-NC","x":51.3,"y":126},{"s":"Ni-NC","x":51.9,"y":133},{"s":"Ni-NC","x":52.3,"y":148},{"s":"Ni-NC","x":52.6,"y":129},{"s":"Ni-NC","x":53.6,"y":123},{"s":"Ni-NC","x":57.4,"y":121},{"s":"Ni-NC","x":60.6,"y":119},{"s":"Ni-NC","x":61.1,"y":127},{"s":"Ni-NC","x":61.5,"y":119},{"s":"Ni-NC","x":63.8,"y":119},{"s":"Ni-NC","x":64.1,"y":123},{"s":"Ni-NC","x":64.4,"y":118},{"s":"Ni-NC","x":66.9,"y":117},{"s":"Ni-NC","x":73.3,"y":116},{"s":"Ni-NC","x":79.7,"y":116},{"s":"Ni-NC","x":86.0,"y":115},{"s":"Ni-NC","x":91.4,"y":115},{"s":"Ni-NC","x":91.7,"y":118},{"s":"Ni-NC","x":92.0,"y":115},{"s":"Ni-NC","x":100,"y":115},
{"s":"Co-NC","x":10,"y":163},{"s":"Co-NC","x":11.6,"y":146},{"s":"Co-NC","x":13.5,"y":129},{"s":"Co-NC","x":16.0,"y":118},{"s":"Co-NC","x":19.2,"y":113},{"s":"Co-NC","x":22.4,"y":111},{"s":"Co-NC","x":25.6,"y":113},{"s":"Co-NC","x":28.1,"y":116},{"s":"Co-NC","x":29.4,"y":124},{"s":"Co-NC","x":30.0,"y":134},{"s":"Co-NC","x":30.4,"y":139},{"s":"Co-NC","x":30.7,"y":134},{"s":"Co-NC","x":31.3,"y":119},{"s":"Co-NC","x":32.3,"y":103},{"s":"Co-NC","x":33.9,"y":94},{"s":"Co-NC","x":36.4,"y":91},{"s":"Co-NC","x":41.5,"y":86},{"s":"Co-NC","x":44.7,"y":84},{"s":"Co-NC","x":47.9,"y":86},{"s":"Co-NC","x":49.8,"y":91},{"s":"Co-NC","x":51.0,"y":93},{"s":"Co-NC","x":51.7,"y":96},{"s":"Co-NC","x":52.0,"y":99},{"s":"Co-NC","x":52.3,"y":93},{"s":"Co-NC","x":53.6,"y":88},{"s":"Co-NC","x":57.4,"y":84},{"s":"Co-NC","x":60.6,"y":83},{"s":"Co-NC","x":60.8,"y":85},{"s":"Co-NC","x":61.2,"y":83},{"s":"Co-NC","x":66.9,"y":81},{"s":"Co-NC","x":73.3,"y":80},{"s":"Co-NC","x":79.7,"y":80},{"s":"Co-NC","x":86.0,"y":79},{"s":"Co-NC","x":92.4,"y":79},{"s":"Co-NC","x":100,"y":78},
{"s":"Fe-NC","x":10,"y":78},{"s":"Fe-NC","x":12.9,"y":66},{"s":"Fe-NC","x":16.0,"y":59},{"s":"Fe-NC","x":19.2,"y":56},{"s":"Fe-NC","x":22.4,"y":55},{"s":"Fe-NC","x":25.6,"y":58},{"s":"Fe-NC","x":27.5,"y":63},{"s":"Fe-NC","x":28.8,"y":73},{"s":"Fe-NC","x":29.7,"y":93},{"s":"Fe-NC","x":30.2,"y":109},{"s":"Fe-NC","x":30.5,"y":119},{"s":"Fe-NC","x":31.0,"y":106},{"s":"Fe-NC","x":31.6,"y":86},{"s":"Fe-NC","x":32.6,"y":66},{"s":"Fe-NC","x":33.9,"y":56},{"s":"Fe-NC","x":36.4,"y":51},{"s":"Fe-NC","x":40.2,"y":48},{"s":"Fe-NC","x":43.6,"y":47},{"s":"Fe-NC","x":44.0,"y":55},{"s":"Fe-NC","x":44.4,"y":47},{"s":"Fe-NC","x":46.6,"y":48},{"s":"Fe-NC","x":46.8,"y":51},{"s":"Fe-NC","x":47.1,"y":48},{"s":"Fe-NC","x":47.7,"y":50},{"s":"Fe-NC","x":48.2,"y":46},{"s":"Fe-NC","x":49.8,"y":52},{"s":"Fe-NC","x":50.3,"y":64},{"s":"Fe-NC","x":50.8,"y":58},{"s":"Fe-NC","x":51.3,"y":71},{"s":"Fe-NC","x":51.8,"y":59},{"s":"Fe-NC","x":52.3,"y":66},{"s":"Fe-NC","x":52.8,"y":71},{"s":"Fe-NC","x":53.3,"y":59},{"s":"Fe-NC","x":53.9,"y":59},{"s":"Fe-NC","x":54.5,"y":49},{"s":"Fe-NC","x":56.8,"y":48},{"s":"Fe-NC","x":57.3,"y":52},{"s":"Fe-NC","x":57.6,"y":48},{"s":"Fe-NC","x":57.9,"y":53},{"s":"Fe-NC","x":58.3,"y":47},{"s":"Fe-NC","x":59.9,"y":47},{"s":"Fe-NC","x":60.1,"y":49},{"s":"Fe-NC","x":60.4,"y":47},{"s":"Fe-NC","x":61.1,"y":48},{"s":"Fe-NC","x":61.5,"y":46},{"s":"Fe-NC","x":64.3,"y":48},{"s":"Fe-NC","x":66.9,"y":45},{"s":"Fe-NC","x":68.5,"y":46},{"s":"Fe-NC","x":73.3,"y":44},{"s":"Fe-NC","x":84.7,"y":45},{"s":"Fe-NC","x":86.0,"y":43},{"s":"Fe-NC","x":93.7,"y":46},{"s":"Fe-NC","x":94.9,"y":46},{"s":"Fe-NC","x":100,"y":43},
{"s":"Mn-NC","x":10,"y":116},{"s":"Mn-NC","x":11.6,"y":96},{"s":"Mn-NC","x":13.5,"y":79},{"s":"Mn-NC","x":16.0,"y":63},{"s":"Mn-NC","x":19.2,"y":55},{"s":"Mn-NC","x":22.4,"y":54},{"s":"Mn-NC","x":25.6,"y":55},{"s":"Mn-NC","x":27.5,"y":52},{"s":"Mn-NC","x":30.0,"y":44},{"s":"Mn-NC","x":31.9,"y":38},{"s":"Mn-NC","x":35.1,"y":26},{"s":"Mn-NC","x":38.3,"y":18},{"s":"Mn-NC","x":41.5,"y":14},{"s":"Mn-NC","x":44.7,"y":14},{"s":"Mn-NC","x":47.9,"y":16},{"s":"Mn-NC","x":50.4,"y":19},{"s":"Mn-NC","x":51.7,"y":19},{"s":"Mn-NC","x":54.2,"y":17},{"s":"Mn-NC","x":57.4,"y":13},{"s":"Mn-NC","x":60.6,"y":10},{"s":"Mn-NC","x":66.9,"y":9},{"s":"Mn-NC","x":73.3,"y":8},{"s":"Mn-NC","x":79.7,"y":8},{"s":"Mn-NC","x":86.0,"y":8},{"s":"Mn-NC","x":92.4,"y":8},{"s":"Mn-NC","x":100,"y":8}
],
"SB":[
{"p":"Mn-PDF#17-0910","x":49.6,"h":93},{"p":"Mn-PDF#17-0910","x":56.5,"h":33},{"p":"Mn-PDF#17-0910","x":60.6,"h":14},{"p":"Mn-PDF#17-0910","x":84.1,"h":10},{"p":"Mn-PDF#17-0910","x":87.6,"h":18},
{"p":"Fe3C-PDF#35-0772","x":37.8,"h":14},{"p":"Fe3C-PDF#35-0772","x":41.1,"h":14},{"p":"Fe3C-PDF#35-0772","x":47.1,"h":14},{"p":"Fe3C-PDF#35-0772","x":49.8,"h":45},{"p":"Fe3C-PDF#35-0772","x":52.0,"h":28},{"p":"Fe3C-PDF#35-0772","x":52.9,"h":28},{"p":"Fe3C-PDF#35-0772","x":55.3,"h":59},{"p":"Fe3C-PDF#35-0772","x":56.3,"h":67},{"p":"Fe3C-PDF#35-0772","x":57.1,"h":57},{"p":"Fe3C-PDF#35-0772","x":57.5,"h":93},{"p":"Fe3C-PDF#35-0772","x":58.5,"h":54},{"p":"Fe3C-PDF#35-0772","x":61.6,"h":37},{"p":"Fe3C-PDF#35-0772","x":62.1,"h":46},{"p":"Fe3C-PDF#35-0772","x":64.9,"h":26},{"p":"Fe3C-PDF#35-0772","x":67.8,"h":24},{"p":"Fe3C-PDF#35-0772","x":71.5,"h":27},{"p":"Fe3C-PDF#35-0772","x":75.5,"h":18},{"p":"Fe3C-PDF#35-0772","x":86.3,"h":24},{"p":"Fe3C-PDF#35-0772","x":94.6,"h":22},{"p":"Fe3C-PDF#35-0772","x":95.4,"h":24},
{"p":"Co-PDF#15-0806","x":56.8,"h":92},{"p":"Co-PDF#15-0806","x":64.6,"h":29},{"p":"Co-PDF#15-0806","x":92.1,"h":12},
{"p":"Ni-PDF#04-0850","x":23.0,"h":92},{"p":"Ni-PDF#04-0850","x":38.8,"h":33},{"p":"Ni-PDF#04-0850","x":94.3,"h":12},
{"p":"Cu-PDF#04-0836","x":43.2,"h":69},{"p":"Cu-PDF#04-0836","x":50.6,"h":33},{"p":"Cu-PDF#04-0836","x":74.3,"h":17},
{"p":"ZnO-PDF#36-1451","x":31.9,"h":41},{"p":"ZnO-PDF#36-1451","x":34.4,"h":32},{"p":"ZnO-PDF#36-1451","x":36.4,"h":69},{"p":"ZnO-PDF#36-1451","x":47.7,"h":20},{"p":"ZnO-PDF#36-1451","x":56.8,"h":25},{"p":"ZnO-PDF#36-1451","x":62.9,"h":22},{"p":"ZnO-PDF#36-1451","x":66.5,"h":8},{"p":"ZnO-PDF#36-1451","x":68.1,"h":20},{"p":"ZnO-PDF#36-1451","x":69.2,"h":13},{"p":"ZnO-PDF#36-1451","x":72.7,"h":5},{"p":"ZnO-PDF#36-1451","x":77.1,"h":6}
],
"SC":[
{"p":"Mn-PDF#17-0910","x":49.5,"h":92},{"p":"Mn-PDF#17-0910","x":56.5,"h":33},{"p":"Mn-PDF#17-0910","x":60.6,"h":14},{"p":"Mn-PDF#17-0910","x":84.2,"h":10},{"p":"Mn-PDF#17-0910","x":87.6,"h":18},
{"p":"Fe3C-PDF#35-0772","x":30.9,"h":14},{"p":"Fe3C-PDF#35-0772","x":34.5,"h":11},{"p":"Fe3C-PDF#35-0772","x":41.3,"h":14},{"p":"Fe3C-PDF#35-0772","x":44.1,"h":44},{"p":"Fe3C-PDF#35-0772","x":46.6,"h":29},{"p":"Fe3C-PDF#35-0772","x":47.6,"h":26},{"p":"Fe3C-PDF#35-0772","x":50.3,"h":59},{"p":"Fe3C-PDF#35-0772","x":51.3,"h":67},{"p":"Fe3C-PDF#35-0772","x":52.3,"h":55},{"p":"Fe3C-PDF#35-0772","x":52.8,"h":93},{"p":"Fe3C-PDF#35-0772","x":53.9,"h":55},{"p":"Fe3C-PDF#35-0772","x":57.3,"h":37},{"p":"Fe3C-PDF#35-0772","x":57.8,"h":45},{"p":"Fe3C-PDF#35-0772","x":61.1,"h":25},{"p":"Fe3C-PDF#35-0772","x":64.3,"h":22},{"p":"Fe3C-PDF#35-0772","x":68.3,"h":25},{"p":"Fe3C-PDF#35-0772","x":72.8,"h":16},{"p":"Fe3C-PDF#35-0772","x":84.7,"h":24},{"p":"Fe3C-PDF#35-0772","x":93.8,"h":20},{"p":"Fe3C-PDF#35-0772","x":94.7,"h":22},
{"p":"Co-PDF#15-0806","x":52.0,"h":89},{"p":"Co-PDF#15-0806","x":60.8,"h":25},{"p":"Co-PDF#15-0806","x":91.3,"h":10},
{"p":"Ni-PDF#04-0850","x":52.3,"h":88},{"p":"Ni-PDF#04-0850","x":61.1,"h":32},{"p":"Ni-PDF#04-0850","x":92.0,"h":12},
{"p":"Cu-PDF#04-0836","x":43.3,"h":67},{"p":"Cu-PDF#04-0836","x":50.5,"h":33},{"p":"Cu-PDF#04-0836","x":74.3,"h":16},
{"p":"ZnO-PDF#36-1451","x":31.9,"h":39},{"p":"ZnO-PDF#36-1451","x":34.5,"h":31},{"p":"ZnO-PDF#36-1451","x":36.4,"h":68},{"p":"ZnO-PDF#36-1451","x":47.7,"h":16},{"p":"ZnO-PDF#36-1451","x":56.8,"h":23},{"p":"ZnO-PDF#36-1451","x":63.0,"h":20},{"p":"ZnO-PDF#36-1451","x":66.6,"h":7},{"p":"ZnO-PDF#36-1451","x":68.1,"h":18},{"p":"ZnO-PDF#36-1451","x":69.2,"h":10},{"p":"ZnO-PDF#36-1451","x":72.7,"h":2},{"p":"ZnO-PDF#36-1451","x":77.1,"h":4}
]
},
"vconcat":[
{"width":706,"height":514,"data":{"name":"A"},"layer":[
{"mark":{"type":"line","strokeWidth":1.8},"encoding":{
"x":{"field":"x","type":"quantitative","scale":{"domain":[10,90]},"axis":{"values":[10,15,20,25,30,35,40,45,50,55,60,65,70,75,80,85,90],"labelExpr":"datum.value % 10 === 0 ? datum.label : ''","tickSize":{"condition":{"test":"datum.value % 10 === 0","value":7},"value":4},"labelOffset":{"condition":{"test":"datum.value === 90","value":-4},"value":0},"labelFontSize":25,"labelPadding":2,"labelOverlap":false,"labelFlush":false,"title":"2 Theta(degree)","titleFontSize":43,"titlePadding":5}},
"y":{"field":"y","type":"quantitative","scale":{"domain":[0,514]},"axis":{"title":"Intensity (a.u.)","labels":false,"ticks":false,"titleFontSize":42,"titlePadding":9}},
"color":{"field":"s","type":"nominal","scale":{"domain":["Cu doped ZIF","Ni doped ZIF","Co doped ZIF","Fe doped ZIF","Mn doped ZIF","ZIF-8"],"range":["#000080","#ff00ff","#0000ff","#ff0000","#000000","#008000"]},"legend":null}}},
{"transform":[{"filter":"datum.x == 90"}],"mark":{"type":"text","align":"right","baseline":"middle","dx":-16,"dy":-22,"fontSize":22,"fontWeight":"bold","color":"#000"},"encoding":{"x":{"field":"x","type":"quantitative"},"y":{"field":"y","type":"quantitative"},"text":{"field":"s"}}},
{"data":{"values":[{"t":"(a)"}]},"mark":{"type":"text","align":"right","baseline":"middle","fontSize":33,"color":"#000"},"encoding":{"x":{"datum":9.2},"y":{"datum":492},"text":{"field":"t"}}}
]},
{"width":705,"height":127,"data":{"values":[{}]},"mark":{"type":"text"},"encoding":{"text":{"value":""}},"view":{"stroke":null}},
{"width":705,"height":244,"data":{"name":"B"},"layer":[
{"mark":{"type":"line","strokeWidth":2.4},"encoding":{
"x":{"field":"x","type":"quantitative","scale":{"domain":[10,100]},"axis":null},
"y":{"field":"y","type":"quantitative","scale":{"domain":[0,244]},"axis":null},
"color":{"field":"s","type":"nominal","scale":{"domain":["Cu-Zn-NC","Ni-Zn-NC","Co-Zn-NC","Fe-Zn-NC","Mn-Zn-NC"],"range":["#8000ff","#ff00ff","#0000ff","#ff0000","#000000"]},"legend":null}}},
{"transform":[{"filter":"datum.x == 100"}],"mark":{"type":"text","align":"right","baseline":"middle","dx":-11,"dy":-21,"fontSize":20,"fontWeight":"bold","color":"#000"},"encoding":{"x":{"field":"x","type":"quantitative"},"y":{"field":"y","type":"quantitative"},"text":{"field":"s"}}},
{"data":{"values":[{"t":"(b)"}]},"mark":{"type":"text","align":"right","baseline":"middle","fontSize":33,"color":"#000"},"encoding":{"x":{"datum":8.6},"y":{"datum":222},"text":{"field":"t"}}}
]},
{"width":705,"height":40.67,"data":{"name":"SB"},"transform":[{"filter":"datum.p == 'Mn-PDF#17-0910'"}],"layer":[
{"mark":{"type":"rule","color":"#000","strokeWidth":1.6},"encoding":{"x":{"field":"x","type":"quantitative","scale":{"domain":[10,100]},"axis":null},"y":{"field":"h","type":"quantitative","scale":{"domain":[0,100]},"axis":{"title":"Intensity(a.u.)","labels":false,"ticks":false,"titleFontSize":40,"titlePadding":10}},"y2":{"datum":0}}},
{"transform":[{"aggregate":[{"op":"count","as":"n"}],"groupby":["p"]}],"mark":{"type":"text","align":"right","baseline":"middle","fontSize":20,"fontWeight":"bold","color":"#000"},"encoding":{"x":{"datum":99.6},"y":{"datum":55},"text":{"field":"p"}}}]},
{"width":705,"height":40.67,"data":{"name":"SB"},"transform":[{"filter":"datum.p == 'Fe3C-PDF#35-0772'"}],"layer":[
{"mark":{"type":"rule","color":"#000","strokeWidth":1.6},"encoding":{"x":{"field":"x","type":"quantitative","scale":{"domain":[10,100]},"axis":null},"y":{"field":"h","type":"quantitative","scale":{"domain":[0,100]},"axis":null},"y2":{"datum":0}}},
{"transform":[{"aggregate":[{"op":"count","as":"n"}],"groupby":["p"]}],"mark":{"type":"text","align":"right","baseline":"middle","fontSize":20,"fontWeight":"bold","color":"#000"},"encoding":{"x":{"datum":99.6},"y":{"datum":55},"text":{"field":"p"}}}]},
{"width":705,"height":40.67,"data":{"name":"SB"},"transform":[{"filter":"datum.p == 'Co-PDF#15-0806'"}],"layer":[
{"mark":{"type":"rule","color":"#000","strokeWidth":1.6},"encoding":{"x":{"field":"x","type":"quantitative","scale":{"domain":[10,100]},"axis":null},"y":{"field":"h","type":"quantitative","scale":{"domain":[0,100]},"axis":null},"y2":{"datum":0}}},
{"transform":[{"aggregate":[{"op":"count","as":"n"}],"groupby":["p"]}],"mark":{"type":"text","align":"right","baseline":"middle","fontSize":20,"fontWeight":"bold","color":"#000"},"encoding":{"x":{"datum":99.6},"y":{"datum":55},"text":{"field":"p"}}}]},
{"width":705,"height":40.67,"data":{"name":"SB"},"transform":[{"filter":"datum.p == 'Ni-PDF#04-0850'"}],"layer":[
{"mark":{"type":"rule","color":"#000","strokeWidth":1.6},"encoding":{"x":{"field":"x","type":"quantitative","scale":{"domain":[10,100]},"axis":null},"y":{"field":"h","type":"quantitative","scale":{"domain":[0,100]},"axis":null},"y2":{"datum":0}}},
{"transform":[{"aggregate":[{"op":"count","as":"n"}],"groupby":["p"]}],"mark":{"type":"text","align":"right","baseline":"middle","fontSize":20,"fontWeight":"bold","color":"#000"},"encoding":{"x":{"datum":99.6},"y":{"datum":55},"text":{"field":"p"}}}]},
{"width":705,"height":40.67,"data":{"name":"SB"},"transform":[{"filter":"datum.p == 'Cu-PDF#04-0836'"}],"layer":[
{"mark":{"type":"rule","color":"#000","strokeWidth":1.6},"encoding":{"x":{"field":"x","type":"quantitative","scale":{"domain":[10,100]},"axis":null},"y":{"field":"h","type":"quantitative","scale":{"domain":[0,100]},"axis":null},"y2":{"datum":0}}},
{"transform":[{"aggregate":[{"op":"count","as":"n"}],"groupby":["p"]}],"mark":{"type":"text","align":"right","baseline":"middle","fontSize":20,"fontWeight":"bold","color":"#000"},"encoding":{"x":{"datum":99.6},"y":{"datum":55},"text":{"field":"p"}}}]},
{"width":705,"height":40.67,"data":{"name":"SB"},"transform":[{"filter":"datum.p == 'ZnO-PDF#36-1451'"}],"layer":[
{"mark":{"type":"rule","color":"#000","strokeWidth":1.6},"encoding":{"x":{"field":"x","type":"quantitative","scale":{"domain":[10,100]},"axis":{"values":[10,15,20,25,30,35,40,45,50,55,60,65,70,75,80,85,90,95,100],"labelExpr":"datum.value % 10 === 0 ? datum.label : ''","tickSize":{"condition":{"test":"datum.value % 10 === 0","value":7},"value":4},"labelOffset":{"condition":{"test":"datum.value === 100","value":-10},"value":0},"labelFontSize":25,"labelPadding":2,"labelOverlap":false,"labelFlush":false,"title":"2 Theta (degree)","titleFontSize":43,"titlePadding":3}},"y":{"field":"h","type":"quantitative","scale":{"domain":[0,100]},"axis":null},"y2":{"datum":0}}},
{"transform":[{"aggregate":[{"op":"count","as":"n"}],"groupby":["p"]}],"mark":{"type":"text","align":"right","baseline":"middle","fontSize":20,"fontWeight":"bold","color":"#000"},"encoding":{"x":{"datum":99.6},"y":{"datum":55},"text":{"field":"p"}}}]},
{"width":705,"height":118,"data":{"values":[{}]},"mark":{"type":"text"},"encoding":{"text":{"value":""}},"view":{"stroke":null}},
{"width":703,"height":244,"data":{"name":"C"},"layer":[
{"mark":{"type":"line","strokeWidth":2.4},"encoding":{
"x":{"field":"x","type":"quantitative","scale":{"domain":[10,100]},"axis":null},
"y":{"field":"y","type":"quantitative","scale":{"domain":[0,244]},"axis":null},
"color":{"field":"s","type":"nominal","scale":{"domain":["Cu-NC","Ni-NC","Co-NC","Fe-NC","Mn-NC"],"range":["#8000ff","#ff00ff","#0000ff","#ff0000","#000000"]},"legend":null}}},
{"transform":[{"filter":"datum.x == 100"}],"mark":{"type":"text","align":"right","baseline":"middle","dx":-10,"dy":-15,"fontSize":20,"fontWeight":"bold","color":"#000"},"encoding":{"x":{"field":"x","type":"quantitative"},"y":{"field":"y","type":"quantitative"},"text":{"field":"s"}}},
{"data":{"values":[{"t":"(c)"}]},"mark":{"type":"text","align":"right","baseline":"middle","fontSize":33,"color":"#000"},"encoding":{"x":{"datum":8.6},"y":{"datum":221},"text":{"field":"t"}}}
]},
{"width":703,"height":40.67,"data":{"name":"SC"},"transform":[{"filter":"datum.p == 'Mn-PDF#17-0910'"}],"layer":[
{"mark":{"type":"rule","color":"#000","strokeWidth":1.6},"encoding":{"x":{"field":"x","type":"quantitative","scale":{"domain":[10,100]},"axis":null},"y":{"field":"h","type":"quantitative","scale":{"domain":[0,100]},"axis":null},"y2":{"datum":0}}},
{"transform":[{"aggregate":[{"op":"count","as":"n"}],"groupby":["p"]}],"mark":{"type":"text","align":"right","baseline":"middle","fontSize":20,"fontWeight":"bold","color":"#000"},"encoding":{"x":{"datum":99.6},"y":{"datum":55},"text":{"field":"p"}}}]},
{"width":703,"height":40.67,"data":{"name":"SC"},"transform":[{"filter":"datum.p == 'Fe3C-PDF#35-0772'"}],"layer":[
{"mark":{"type":"rule","color":"#000","strokeWidth":1.6},"encoding":{"x":{"field":"x","type":"quantitative","scale":{"domain":[10,100]},"axis":null},"y":{"field":"h","type":"quantitative","scale":{"domain":[0,100]},"axis":{"title":"Intensity(a.u.)","labels":false,"ticks":false,"titleFontSize":40,"titlePadding":10}},"y2":{"datum":0}}},
{"transform":[{"aggregate":[{"op":"count","as":"n"}],"groupby":["p"]}],"mark":{"type":"text","align":"right","baseline":"middle","fontSize":20,"fontWeight":"bold","color":"#000"},"encoding":{"x":{"datum":99.6},"y":{"datum":55},"text":{"field":"p"}}}]},
{"width":703,"height":40.67,"data":{"name":"SC"},"transform":[{"filter":"datum.p == 'Co-PDF#15-0806'"}],"layer":[
{"mark":{"type":"rule","color":"#000","strokeWidth":1.6},"encoding":{"x":{"field":"x","type":"quantitative","scale":{"domain":[10,100]},"axis":null},"y":{"field":"h","type":"quantitative","scale":{"domain":[0,100]},"axis":null},"y2":{"datum":0}}},
{"transform":[{"aggregate":[{"op":"count","as":"n"}],"groupby":["p"]}],"mark":{"type":"text","align":"right","baseline":"middle","fontSize":20,"fontWeight":"bold","color":"#000"},"encoding":{"x":{"datum":99.6},"y":{"datum":55},"text":{"field":"p"}}}]},
{"width":703,"height":40.67,"data":{"name":"SC"},"transform":[{"filter":"datum.p == 'Ni-PDF#04-0850'"}],"layer":[
{"mark":{"type":"rule","color":"#000","strokeWidth":1.6},"encoding":{"x":{"field":"x","type":"quantitative","scale":{"domain":[10,100]},"axis":null},"y":{"field":"h","type":"quantitative","scale":{"domain":[0,100]},"axis":null},"y2":{"datum":0}}},
{"transform":[{"aggregate":[{"op":"count","as":"n"}],"groupby":["p"]}],"mark":{"type":"text","align":"right","baseline":"middle","fontSize":20,"fontWeight":"bold","color":"#000"},"encoding":{"x":{"datum":99.6},"y":{"datum":55},"text":{"field":"p"}}}]},
{"width":703,"height":40.67,"data":{"name":"SC"},"transform":[{"filter":"datum.p == 'Cu-PDF#04-0836'"}],"layer":[
{"mark":{"type":"rule","color":"#000","strokeWidth":1.6},"encoding":{"x":{"field":"x","type":"quantitative","scale":{"domain":[10,100]},"axis":null},"y":{"field":"h","type":"quantitative","scale":{"domain":[0,100]},"axis":null},"y2":{"datum":0}}},
{"transform":[{"aggregate":[{"op":"count","as":"n"}],"groupby":["p"]}],"mark":{"type":"text","align":"right","baseline":"middle","fontSize":20,"fontWeight":"bold","color":"#000"},"encoding":{"x":{"datum":99.6},"y":{"datum":55},"text":{"field":"p"}}}]},
{"width":703,"height":40.67,"data":{"name":"SC"},"transform":[{"filter":"datum.p == 'ZnO-PDF#36-1451'"}],"layer":[
{"mark":{"type":"rule","color":"#000","strokeWidth":1.6},"encoding":{"x":{"field":"x","type":"quantitative","scale":{"domain":[10,100]},"axis":{"values":[10,15,20,25,30,35,40,45,50,55,60,65,70,75,80,85,90,95,100],"labelExpr":"datum.value % 10 === 0 ? datum.label : ''","tickSize":{"condition":{"test":"datum.value % 10 === 0","value":7},"value":4},"labelOffset":{"condition":{"test":"datum.value === 100","value":-8},"value":0},"labelFontSize":25,"labelPadding":2,"labelOverlap":false,"labelFlush":false,"title":"2 Theta (degree)","titleFontSize":43,"titlePadding":5}},"y":{"field":"h","type":"quantitative","scale":{"domain":[0,100]},"axis":null},"y2":{"datum":0}}},
{"transform":[{"aggregate":[{"op":"count","as":"n"}],"groupby":["p"]}],"mark":{"type":"text","align":"right","baseline":"middle","fontSize":20,"fontWeight":"bold","color":"#000"},"encoding":{"x":{"datum":99.6},"y":{"datum":55},"text":{"field":"p"}}}]}
]
}
